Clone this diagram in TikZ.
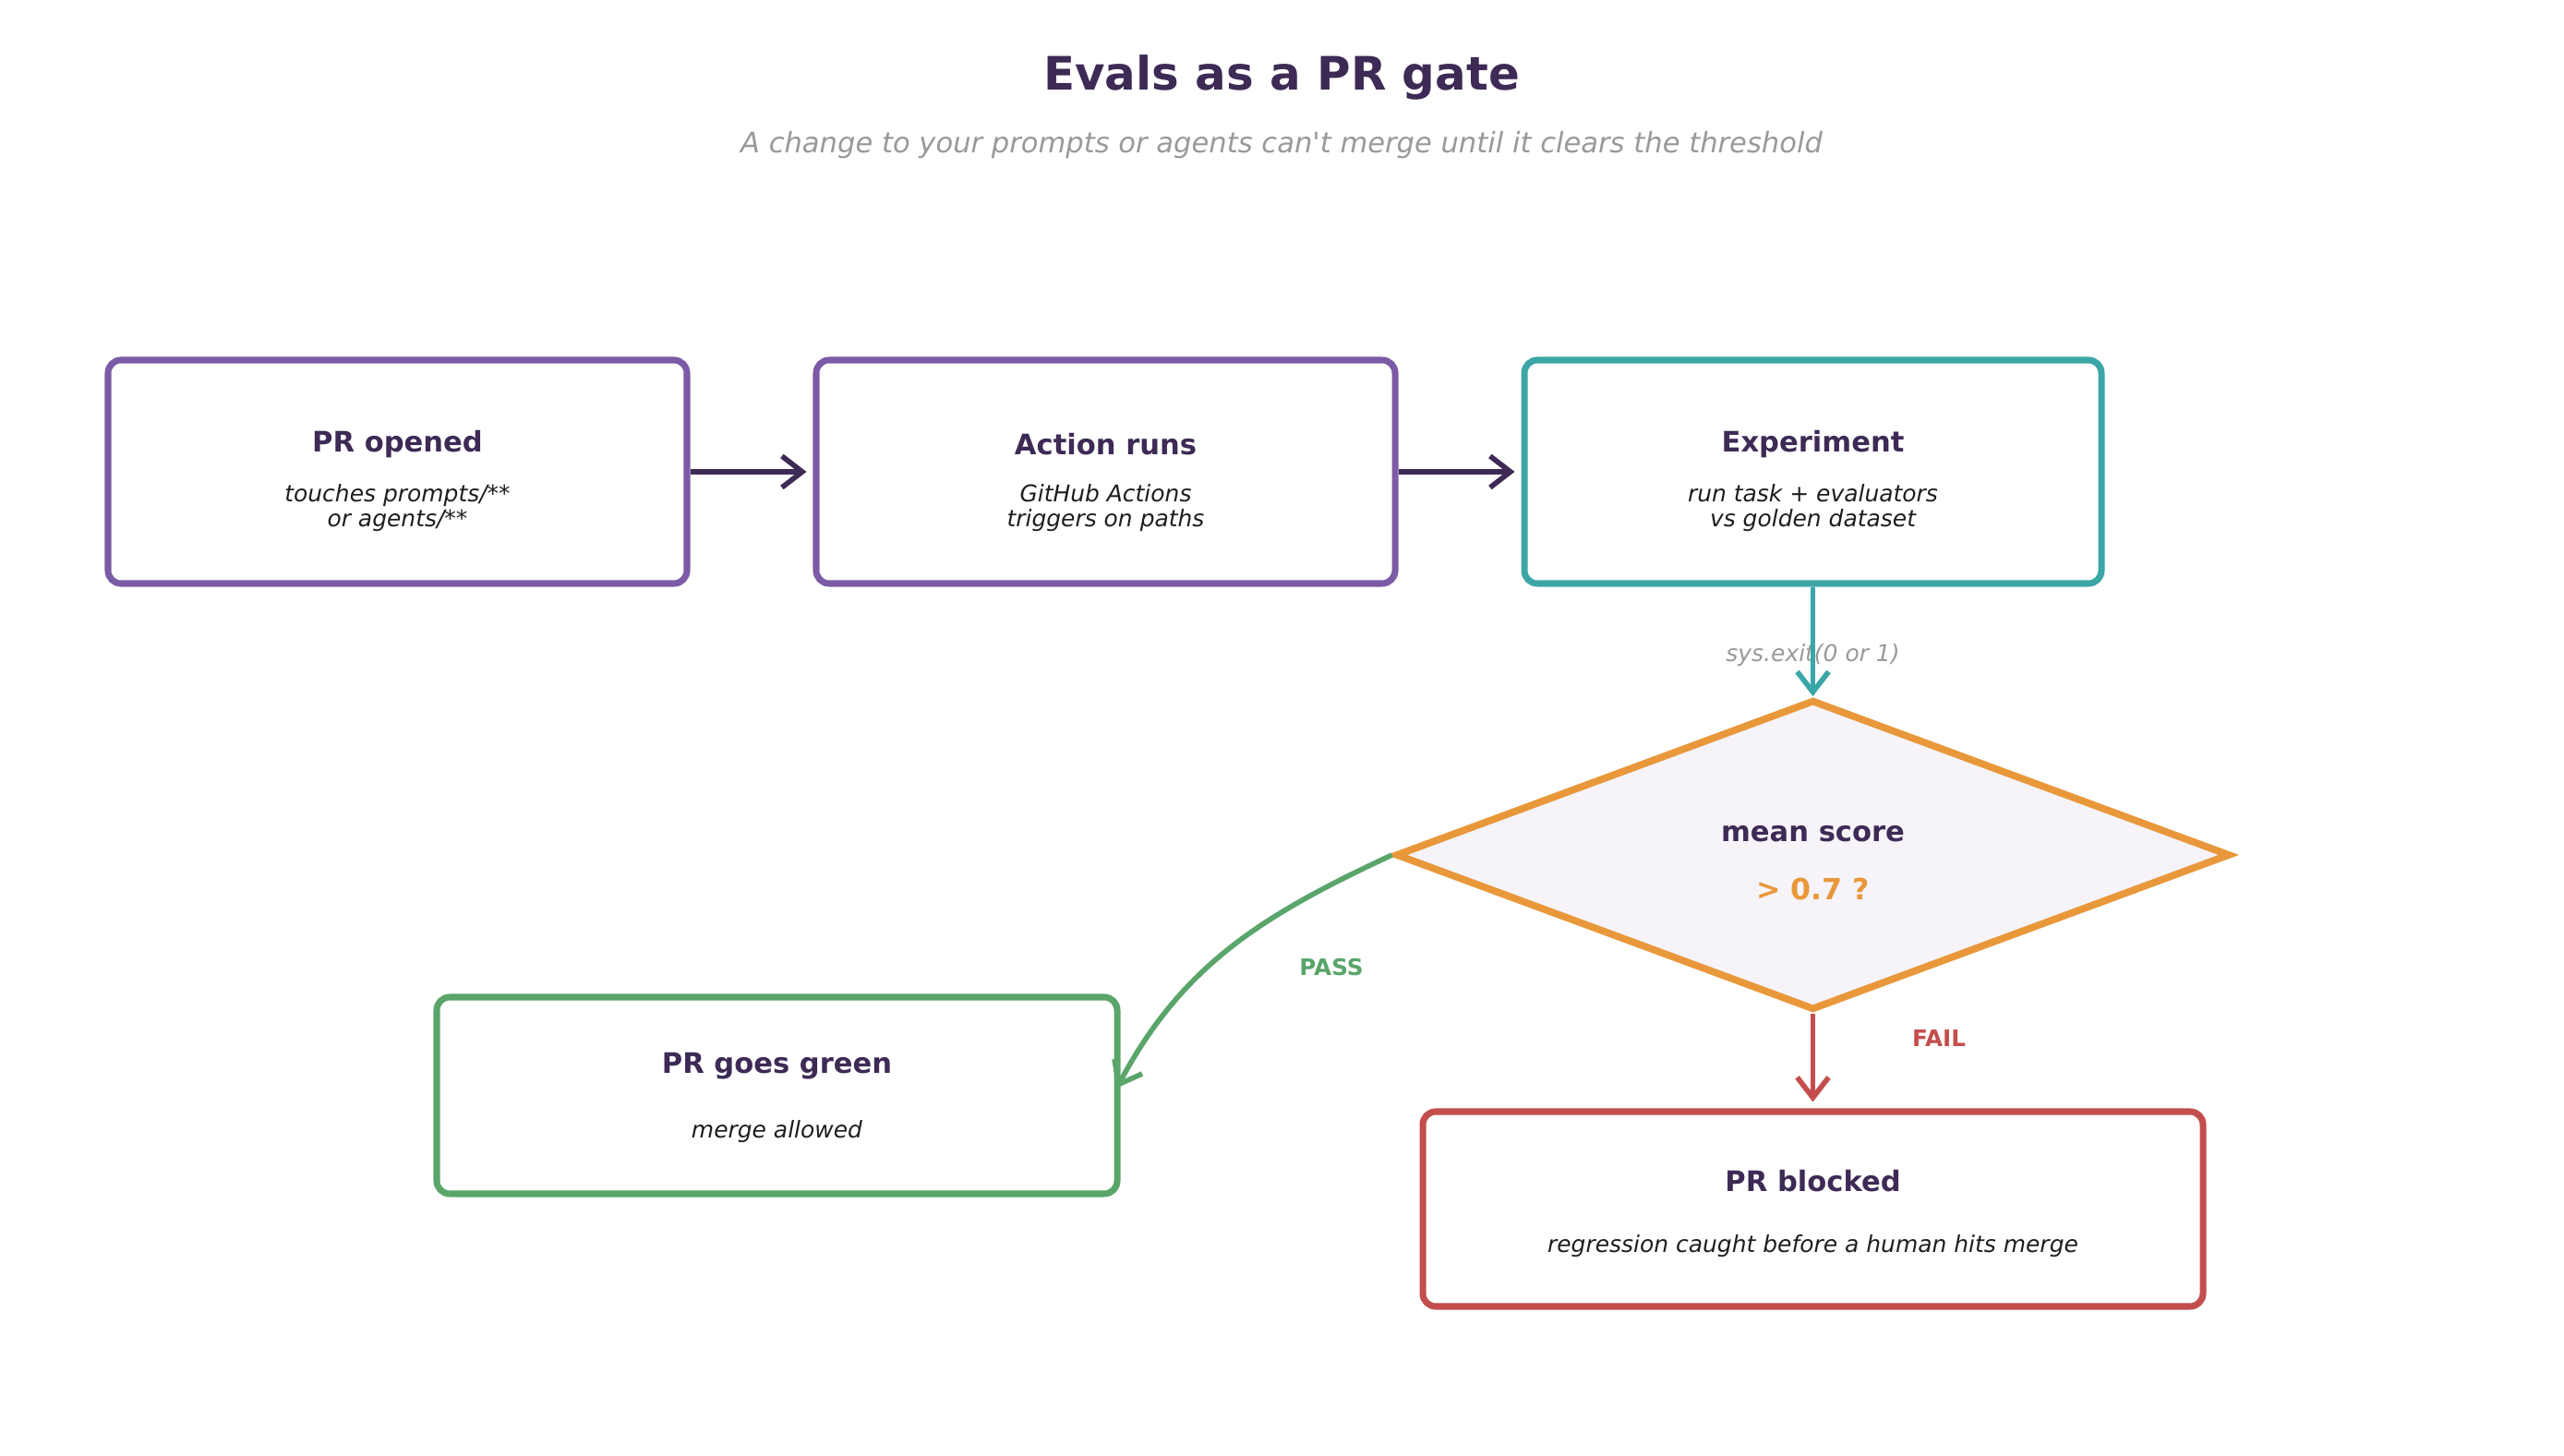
\documentclass[tikz,border=0pt]{standalone}
\usepackage{fontspec}
\setmainfont{DejaVu Sans}[Ligatures=TeXOff]
\usetikzlibrary{shapes.geometric,arrows.meta}
\definecolor{ink}{RGB}{61,42,85}
\definecolor{subink}{RGB}{30,30,30}
\definecolor{muted}{RGB}{153,153,153}
\definecolor{lavender}{RGB}{123,90,166}
\definecolor{tealc}{RGB}{60,166,166}
\definecolor{orangec}{RGB}{232,152,58}
\definecolor{greenc}{RGB}{90,165,106}
\definecolor{redc}{RGB}{196,77,77}
\definecolor{gatefill}{RGB}{246,243,249}
\begin{document}
\begin{tikzpicture}[
	box/.style={draw, rounded corners=0.14cm, line width=2pt, minimum width=6.27cm, minimum height=2.42cm, inner sep=0pt},
	hd/.style={text=ink, font=\fontsize{8.7}{10}\selectfont\bfseries},
	sub/.style={text=subink, font=\fontsize{7.1}{7.5}\selectfont\itshape, align=center},
	flow/.style={line width=1.6pt, -{Straight Barb[length=0.22cm, width=0.34cm]}},
	]
	\useasboundingbox (0,0) rectangle (27.77,-15.77);
	\node[text=ink, font=\fontsize{14.2}{16}\selectfont\bfseries] (title) at (13.88,-0.84) {Evals as a PR gate};
	\node[text=muted, font=\fontsize{8.7}{10}\selectfont\itshape] (subtitle) at (13.88,-1.57) {A change to your prompts or agents can't merge until it clears the threshold};
	% top row
	\node[box, draw=lavender] (open) at (4.305,-5.11) {};
	\node[hd] (openhd) at (4.305,-4.81) {PR opened};
	\node[sub] (opensub) at (4.305,-5.50) {touches prompts/**\\or agents/**};
	\node[box, draw=lavender] (runs) at (11.975,-5.11) {};
	\node[hd] (runshd) at (11.975,-4.81) {Action runs};
	\node[sub] (runssub) at (11.975,-5.50) {GitHub Actions\\triggers on paths};
	\node[box, draw=tealc, minimum width=6.25cm] (exp) at (19.635,-5.11) {};
	\node[hd] (exphd) at (19.635,-4.81) {Experiment};
	\node[sub] (expsub) at (19.635,-5.50) {run task + evaluators\\vs golden dataset};
	% gate
	\node[diamond, draw=orangec, fill=gatefill, line width=2.2pt, minimum width=9.04cm, minimum height=3.36cm, inner sep=0pt] (gate) at (19.635,-9.26) {};
	\node[hd] (gatehd) at (19.635,-9.03) {mean score};
	\node[text=orangec, font=\fontsize{9}{10}\selectfont\bfseries] (gatethr) at (19.635,-9.63) {> 0.7 ?};
	% outcomes
	\node[box, draw=greenc, minimum width=7.37cm, minimum height=2.13cm] (green) at (8.415,-11.865) {};
	\node[hd] (greenhd) at (8.415,-11.55) {PR goes green};
	\node[sub] (greensub) at (8.415,-12.26) {merge allowed};
	\node[box, draw=redc, minimum width=8.45cm, minimum height=2.11cm] (blocked) at (19.635,-13.095) {};
	\node[hd] (blockedhd) at (19.635,-12.79) {PR blocked};
	\node[sub] (blockedsub) at (19.635,-13.50) {regression caught before a human hits merge};
	% labels
	\node[text=muted, font=\fontsize{7.1}{8}\selectfont\itshape] (exitlbl) at (19.635,-7.10) {sys.exit(0 or 1)};
	\node[text=greenc, font=\fontsize{7}{8}\selectfont\bfseries] (passlbl) at (14.42,-10.48) {PASS};
	\node[text=redc, font=\fontsize{7}{8}\selectfont\bfseries] (faillbl) at (21.00,-11.25) {FAIL};
	% connectors
	\draw[flow, ink, shorten >=0.07cm] (open) -- (runs);
	\draw[flow, ink, shorten >=0.07cm] (runs) -- (exp);
	\draw[flow, tealc] (exp) -- (gate);
	\draw[flow, greenc] (gate.west) to[out=205, in=62] ([shift={(-0.04cm,0.08cm)}]green.east);
	\draw[flow, redc, shorten >=0.07cm] (gate) -- (blocked);
\end{tikzpicture}
\end{document}
